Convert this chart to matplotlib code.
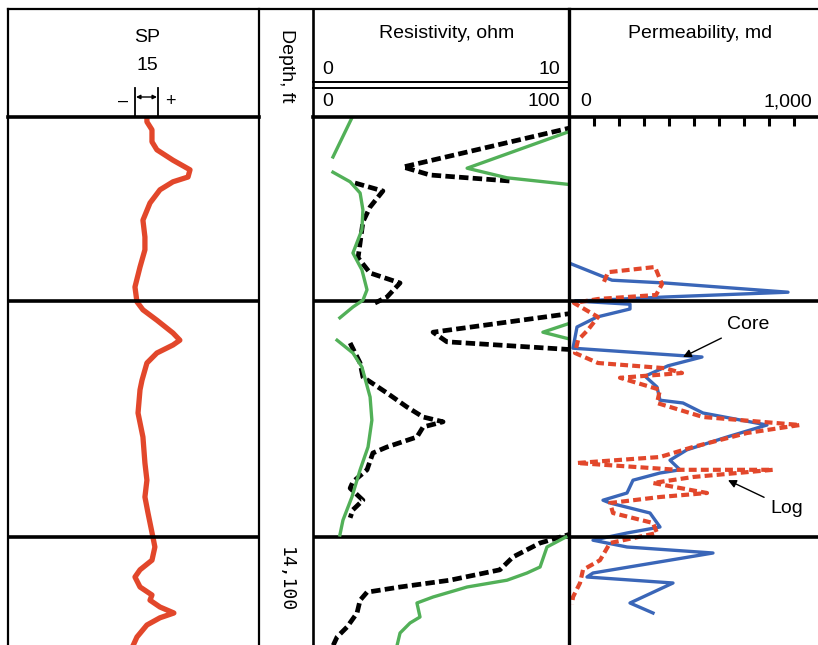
#well log panel: SP, resistivity and permeability (core vs log) against depth
import numpy as np
import matplotlib
matplotlib.use('Agg')
import matplotlib.pyplot as plt

nan = np.nan

#SP curve, mV relative to shale baseline
sp_depth = [13995, 13996.2, 13998.2, 14001.2, 14003.2, 14005.8, 14008.2, 14010, 14011.2, 14013.2,
            14016.5, 14020.8, 14025, 14028.2, 14032.5, 14037.5, 14041.2, 14043.2, 14045.8, 14049,
            14050.8, 14052, 14054, 14056.5, 14060.8, 14063.2, 14069, 14075, 14081.5, 14085.8,
            14090, 14094, 14100, 14102.5, 14105.8, 14108.2, 14110, 14112.5, 14114.5, 14115.8,
            14117.5, 14119, 14120.2, 14122, 14125, 14127.2]
sp_mv = [7.8, 7.8, 11.1, 11.1, 14.3, 24.8, 35.9, 34.6, 24.8, 16.3,
         9.8, 5.2, 6.5, 6.5, 3.3, 0, 1.3, 5.2, 14.3, 24.8,
         29.3, 24.8, 14.3, 7.8, 4.6, 3.3, 2.0, 5.2, 6.5, 7.8,
         6.5, 8.5, 11.7, 13.0, 11.1, 3.3, 0, 3.3, 11.1, 9.8,
         16.3, 25.4, 16.3, 7.8, 1.3, -1.3]

#shallow resistivity, 0-10 ohm scale (green), nan = break in the trace
shallow_depth = [13995.2, 14005, nan,
                 14008.8, 14011.2, 14014, 14018.2, 14023.2, 14029, 14033.2, 14038.2, 14040.8, 14042.5, 14045.2, nan,
                 14050.8, 14054, 14057.5, 14065, 14070.8, 14077.5, 14083.2, 14090, 14095.8, 14099.5, nan,
                 14100, 14102.5, 14107.5, 14109, 14110.8, 14112.5, 14115, 14116.5, 14120, 14121.5, 14124, 14127.2, nan,
                 13998.2, 14007.8, 14010.2, 14012, nan,
                 14046.2, 14048.8, 14050.8]
shallow_ohm = [1.52, 0.78, nan,
               0.78, 1.45, 1.84, 1.95, 1.91, 1.56, 1.91, 2.11, 1.95, 1.56, 1.05, nan,
               0.94, 1.56, 1.91, 2.23, 2.30, 2.15, 1.84, 1.52, 1.17, 1.05, nan,
               9.88, 9.14, 8.87, 8.36, 7.58, 6.02, 4.69, 4.06, 4.18, 3.79, 3.40, 3.28, nan,
               10.2, 6.02, 7.58, 10.2, nan,
               10.2, 8.98, 10.2]

#deep resistivity, 0-100 ohm scale (black dashed)
deep_depth = [13997.5, 14007.5, 14009.5, 14011, nan,
              14011.5, 14013.5, 14017.5, 14021.2, 14026.5, 14030.2, 14034, 14036.5, 14040, 14041.5, nan,
              14044, 14048.8, 14051.2, 14053.2, nan,
              14051.5, 14056.5, 14060, 14064, 14067.5, 14070, 14071.2, 14072.5, 14075, 14077.5, 14079,
              14083.2, 14086.2, 14087.8, 14090.8, 14093.2, 14095.2, nan,
              14099, 14101.5, 14105, 14108.2, 14110.8, 14112.5, 14113.8, 14115.8, 14119, 14122.5, 14125, 14127.2]
deep_ohm = [102, 35.2, 45.7, 76.9, nan,
            16.4, 27.3, 22.3, 19.5, 18.4, 17.6, 22.3, 34.0, 28.9, 24.2, nan,
            102, 46.9, 52.3, 102, nan,
            14.5, 18.4, 19.5, 28.9, 36.7, 43.0, 50.8, 43.0, 40.6, 28.9, 23.4,
            21.1, 15.6, 14.5, 19.5, 15.6, 14.5, nan,
            102, 88.7, 78.1, 73.0, 53.5, 34.0, 21.1, 18.4, 17.2, 13.3, 9.4, 7.8]

#permeability from core (blue)
core_depth = [14031.5, 14035.8, 14036.5, 14038.8, 14040, 14040.8, 14041, 14041.8, 14043, 14045,
              14047.5, 14052.8, 14055, 14057.2, 14059.8, 14062.5, 14065.8, 14066.5, 14069, 14072,
              14075, 14078.2, 14080.8, 14083.2, 14084, 14085.8, 14089, 14090.8, 14091.5, 14094,
              14097.5, 14099, 14100.8, 14102.5, 14104, 14109, 14110, 14111.5, 14116.5, 14119]
core_md = [0, 172, 384, 876, 384, 116, 24, 244, 244, 112,
           32, 16, 532, 396, 304, 352, 364, 456, 536, 792,
           632, 472, 404, 444, 364, 256, 232, 136, 164, 324,
           364, 232, 96, 232, 576, 96, 72, 416, 244, 336]

#permeability from log (red dashed)
log_depth = [14036.2, 14033.8, 14032.5, 14036.8, 14039.5, 14040.5, 14041.5, 14045, 14048.2, 14050.8,
             14054, 14056.5, 14057.8, 14059, 14060.2, 14063.2, 14066.5, 14070, 14072, 14074,
             14077.5, 14080, 14081.5, 14083.2, 14083.2, 14085, 14086.5, 14089, 14090, 14091.5,
             14094, 14096.5, 14099, 14101.5, 14105.8, 14108.2, 14111.5, 14115, 14116.8]
log_md = [140, 156, 344, 372, 348, 116, 20, 116, 76, 36,
          24, 116, 384, 452, 204, 364, 352, 536, 924, 712,
          496, 364, 32, 432, 816, 496, 336, 552, 364, 164,
          176, 336, 352, 164, 124, 56, 44, 16, 12]

depth_lines = [13995, 14041, 14100]
perm_ticks = np.arange(100, 1000, 100)

red = '#e2472b'
green = '#52b058'
blue = '#3a66b8'
font = 'Liberation Sans'

W, H = 818, 645
fig = plt.figure(figsize=(W / 100, H / 100), dpi=100)
data_h = (H - 117) / H

ax_sp = fig.add_axes([8 / W, 0, 251 / W, data_h])
ax_res = fig.add_axes([313 / W, 0, 256 / W, data_h])
ax_res2 = ax_res.twiny()
ax_perm = fig.add_axes([569 / W, 0, 250 / W, data_h])

for ax in [ax_sp, ax_res, ax_res2, ax_perm]:
    ax.set_ylim(14127, 13995)
    ax.patch.set_visible(False)
    for s in ax.spines.values():
        s.set_visible(False)
    ax.tick_params(left=False, labelleft=False, bottom=False, labelbottom=False,
                   top=False, labeltop=False)

for ax in [ax_sp, ax_res, ax_perm]:
    for d in depth_lines[1:]:
        ax.axhline(d, color='black', lw=2.6, zorder=6)

#SP track
ax_sp.set_xlim(-82.8, 80.9)
ax_sp.plot(sp_mv, sp_depth, color=red, lw=3.8, solid_joinstyle='round', solid_capstyle='round')

#resistivity track
ax_res.set_xlim(0, 100)
ax_res2.set_xlim(0, 10)
ax_res2.plot(shallow_ohm, shallow_depth, color=green, lw=2.4, solid_joinstyle='round')
ax_res.plot(deep_ohm, deep_depth, color='black', lw=3.4, linestyle=(0, (2.0, 0.9)))

#permeability track
ax_perm.set_xlim(0, 1000)
ax_perm.set_xticks(perm_ticks)
ax_perm.tick_params(axis='x', top=True, direction='in', length=6.5, width=2.2, color='black')
ax_perm.plot(core_md, core_depth, color=blue, lw=2.4, solid_joinstyle='round')
ax_perm.plot(log_md, log_depth, color=red, lw=3, linestyle=(0, (1.9, 1.0)))
arrow = dict(arrowstyle='-|>', color='black', lw=1, mutation_scale=12, shrinkA=3, shrinkB=0)
ax_perm.annotate('Core', xy=(456, 14055), xytext=(716, 14047), ha='center', va='center',
                 fontsize=14, family=font, arrowprops=arrow, zorder=8)
ax_perm.annotate('Log', xy=(636, 14085.8), xytext=(872, 14092.8), ha='center', va='center',
                 fontsize=14, family=font, arrowprops=arrow, zorder=8)

#frame and header, drawn in pixel space
ov = fig.add_axes([0, 0, 1, 1], zorder=5)
ov.set_xlim(0, W)
ov.set_ylim(H, 0)
ov.axis('off')
ov.plot([8, W], [9, 9], color='black', lw=1.6)
for x, lw in [(8, 1.6), (259, 1.6), (313, 1.9), (569, 2.4)]:
    ov.plot([x, x], [9, H], color='black', lw=lw)
ov.plot([8, 259], [117, 117], color='black', lw=2.6)
ov.plot([313, W], [117, 117], color='black', lw=2.6)
ov.plot([313, 569], [82, 82], color='black', lw=1.4)
ov.plot([313, 569], [88, 88], color='black', lw=1.4)

ov.text(147, 37, 'SP', ha='center', va='center', fontsize=14, family=font)
ov.text(147, 65, '15', ha='center', va='center', fontsize=14, family=font)
ov.text(123, 101, '\u2013', ha='center', va='center', fontsize=13, family=font)
ov.text(170, 101, '+', ha='center', va='center', fontsize=13, family=font)
ov.plot([135, 135], [88, 117], color='black', lw=1.3)
ov.plot([158, 158], [88, 117], color='black', lw=1.3)
ov.annotate('', xy=(136, 97), xytext=(157, 97),
            arrowprops=dict(arrowstyle='<|-|>', color='black', lw=1, mutation_scale=6,
                            shrinkA=0, shrinkB=0))

ov.text(286, 66, 'Depth, ft', ha='center', va='center', rotation=270, fontsize=14, family=font)
ov.text(286, 580, '14,100', ha='center', va='center', rotation=270, fontsize=13,
        family='DejaVu Sans Mono')

ov.text(447, 33, 'Resistivity, ohm', ha='center', va='center', fontsize=14, family=font)
ov.text(322, 70, '0', ha='left', va='center', fontsize=14, family=font)
ov.text(560, 70, '10', ha='right', va='center', fontsize=14, family=font)
ov.text(322, 102, '0', ha='left', va='center', fontsize=14, family=font)
ov.text(560, 102, '100', ha='right', va='center', fontsize=14, family=font)

ov.text(700, 33, 'Permeability, md', ha='center', va='center', fontsize=14, family=font)
ov.text(580, 102, '0', ha='left', va='center', fontsize=14, family=font)
ov.text(812, 102, '1,000', ha='right', va='center', fontsize=14, family=font)

plt.savefig('out.png', dpi=100)
plt.close()
